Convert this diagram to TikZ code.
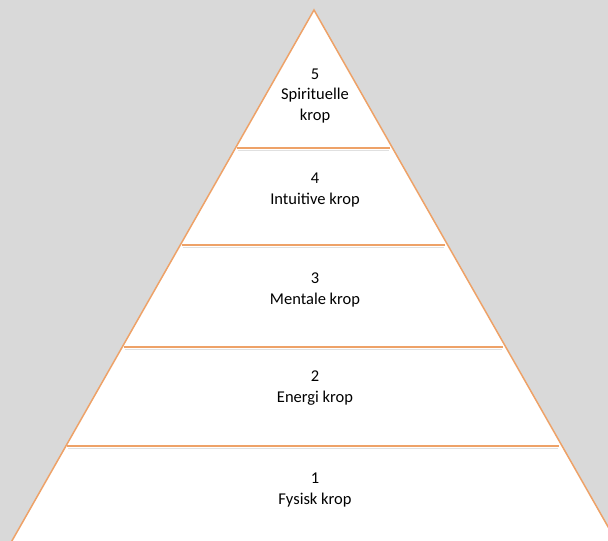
\documentclass[tikz,border=0pt]{standalone}
\usepackage{fontspec}
\setmainfont{Carlito}
\usetikzlibrary{calc}
\definecolor{bg}{RGB}{217,217,217}
\definecolor{edgeor}{RGB}{238,162,104}
\begin{document}
\begin{tikzpicture}[x=1pt,y=-1pt,
  pyr/.style={fill=white,draw=edgeor,line width=1.5pt,line join=miter},
  divider/.style={draw=edgeor,line width=1.5pt},
  shade/.style={draw=black!12,line width=1.2pt},
  lbl/.style={align=center,font=\fontsize{16.5}{20.5}\selectfont,text=black,inner sep=0pt}]
\useasboundingbox (0,0) rectangle (608,541);
\clip (0,0) rectangle (608,541);
\fill[bg] (0,0) rectangle (608,541);
\coordinate (apex) at (314,10);
\coordinate (bl) at (-27.4,610);
\coordinate (br) at (655.4,610);
\path[pyr] (apex) -- (br) -- (bl) -- cycle;
\foreach \t/\n in {0.23/a,0.3917/b,0.5617/c,0.7267/d}{
  \coordinate (L\n) at ($(apex)!\t!(bl)+(1.5,0)$);
  \coordinate (R\n) at ($(apex)!\t!(br)+(-3,0)$);
  \draw[shade] ($(L\n)+(1,2.2)$) -- ($(R\n)+(-1,2.2)$);
  \draw[divider] (L\n) -- (R\n);
}
\node[lbl] (t5) at (315,96) {5\\Spirituelle\\krop};
\node[lbl] (t4) at (315,190) {4\\Intuitive krop};
\node[lbl] (t3) at (315,290) {3\\Mentale krop};
\node[lbl] (t2) at (315,388) {2\\Energi krop};
\node[lbl] (t1) at (315,490) {1\\Fysisk krop};
\end{tikzpicture}
\end{document}
